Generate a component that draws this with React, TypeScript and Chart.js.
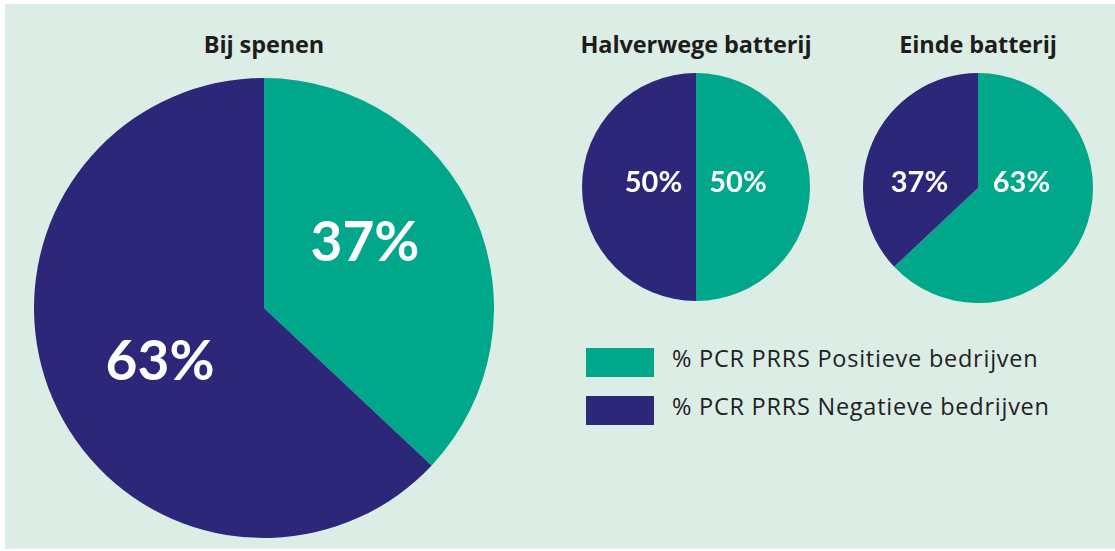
import React, { useEffect, useRef } from "react";
import { Chart, registerables } from "chart.js";

Chart.register(...registerables);

const categories = ["% PCR PRRS Positieve bedrijven", "% PCR PRRS Negatieve bedrijven"];
const titles = ["Bij spenen", "Halverwege batterij", "Einde batterij"];
const spenenValues = [37, 63];
const halverwegeValues = [50, 50];
const eindeValues = [63, 37];

const TEAL = "#00a78b";
const NAVY = "#2d2779";
const BG = "#dcede6";
const TEXT = "#1d1d1b";
const LABEL_FONT = "Lato, 'Open Sans', sans-serif";
const TEXT_FONT = "'Open Sans', Lato, sans-serif";

type PieSpec = {
  title: string;
  values: number[];
  left: number;
  top: number;
  size: number;
  fontSize: number;
  offsets: [number, number][];
  titleTop: number;
};

const pies: PieSpec[] = [
  { title: titles[0], values: spenenValues, left: 34, top: 78, size: 460, fontSize: 55, offsets: [[0.439, -0.283], [-0.452, 0.235]], titleTop: 29 },
  { title: titles[1], values: halverwegeValues, left: 582, top: 73, size: 228, fontSize: 29, offsets: [[0.368, -0.035], [-0.373, -0.035]], titleTop: 29 },
  { title: titles[2], values: eindeValues, left: 863, top: 73, size: 230, fontSize: 29, offsets: [[0.378, -0.043], [-0.509, -0.043]], titleTop: 29 },
];

const sliceLabels = {
  id: "sliceLabels",
  afterDatasetsDraw(chart: any, _args: any, opts: any) {
    const ctx = chart.ctx;
    const meta = chart.getDatasetMeta(0);
    const ds = chart.data.datasets[0];
    ctx.save();
    ctx.fillStyle = "#ffffff";
    ctx.font = `bold ${opts.fontSize}px ${LABEL_FONT}`;
    ctx.textAlign = "center";
    ctx.textBaseline = "middle";
    meta.data.forEach((arc: any, i: number) => {
      const p = arc.getProps(["x", "y", "outerRadius"], true);
      const off = opts.offsets[i] || [0, 0];
      ctx.fillText(`${ds.data[i]}%`, p.x + off[0] * p.outerRadius, p.y + off[1] * p.outerRadius);
    });
    ctx.restore();
  },
};

function PieChart({ spec }: { spec: PieSpec }) {
  const ref = useRef<HTMLCanvasElement | null>(null);
  useEffect(() => {
    if (!ref.current) return;
    const chart = new Chart(ref.current, {
      type: "pie",
      data: {
        labels: categories,
        datasets: [{ data: spec.values, backgroundColor: [TEAL, NAVY], borderWidth: 0 }],
      },
      options: {
        animation: false,
        responsive: false,
        maintainAspectRatio: false,
        layout: { padding: 0 },
        plugins: {
          legend: { display: false },
          tooltip: { enabled: false },
          sliceLabels: { fontSize: spec.fontSize, offsets: spec.offsets },
        } as any,
      },
      plugins: [sliceLabels],
    });
    return () => chart.destroy();
  }, [spec]);
  return (
    <>
      <div
        style={{
          position: "absolute",
          left: spec.left + spec.size / 2 - 200,
          width: 400,
          top: spec.titleTop,
          textAlign: "center",
          fontFamily: TEXT_FONT,
          fontWeight: 700,
          fontSize: 23.5,
          lineHeight: "30px",
          letterSpacing: "-0.1px",
          color: TEXT,
        }}
      >
        {spec.title}
      </div>
      <canvas
        ref={ref}
        width={spec.size}
        height={spec.size}
        style={{ position: "absolute", left: spec.left, top: spec.top, width: spec.size, height: spec.size }}
      />
    </>
  );
}

export default function App() {
  const legendColors = [TEAL, NAVY];
  return (
    <div style={{ position: "absolute", left: 0, top: 0, width: 1115, height: 551, background: "#ffffff", overflow: "hidden" }}>
      <div style={{ position: "absolute", left: 5, top: 4, width: 1110, height: 545, background: BG }} />
      {pies.map((p) => (
        <PieChart key={p.title} spec={p} />
      ))}
      {categories.map((c, i) => (
        <React.Fragment key={c}>
          <div
            style={{
              position: "absolute",
              left: 586,
              top: 348 + i * 48,
              width: 68,
              height: 29,
              background: legendColors[i],
            }}
          />
          <div
            style={{
              position: "absolute",
              left: 672,
              top: 344 + i * 48,
              height: 29,
              lineHeight: "29px",
              fontFamily: TEXT_FONT,
              fontSize: 23.5,
              letterSpacing: "0.75px",
              color: "#222222",
              whiteSpace: "nowrap",
            }}
          >
            {c}
          </div>
        </React.Fragment>
      ))}
    </div>
  );
}
